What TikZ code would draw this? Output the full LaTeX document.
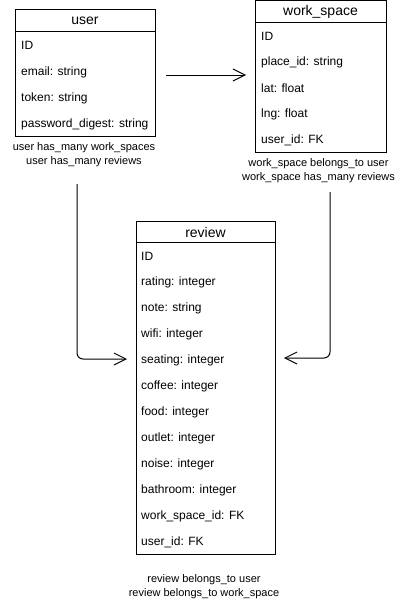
\documentclass[tikz,border=0pt]{standalone}
\usepackage{fontspec}
\setmainfont{Liberation Sans}
\usetikzlibrary{arrows.meta}
\begin{document}
\begin{tikzpicture}[x=1pt,y=-1pt,
  ent/.style={draw=black,line width=1pt,fill=white,inner sep=0pt},
  hdr/.style={font=\fontsize{14}{16}\selectfont,anchor=center,inner sep=0pt},
  fld/.style={font=\fontsize{12}{14}\selectfont,anchor=west,inner sep=0pt},
  capt/.style={font=\fontsize{11}{14}\selectfont,align=center,inner sep=0pt},
  conn/.style={line width=1pt,rounded corners=6pt,-{Straight Barb[length=12pt,width=12pt,line width=1pt]}}]
\useasboundingbox (0,0) rectangle (416,602);
% user
\draw[ent] (15,10) rectangle (155,136);
\draw[line width=1pt] (15,32) -- (155,32);
\node[hdr] (ut) at (85,21) {user};
\node[fld] (u1) at (21,45) {ID};
\node[fld] (u2) at (21,72) {email: string};
\node[fld] (u3) at (21,98) {token: string};
\node[fld] (u4) at (21,124) {password\_digest: string};
\node[capt] (uc) at (84,155) {user has\_many work\_spaces\\user has\_many reviews};
% work_space
\draw[ent] (255,1) rectangle (386,152);
\draw[line width=1pt] (255,23) -- (386,23);
\node[hdr] (wt) at (320.5,12) {work\_space};
\node[fld] (w1) at (261,36) {ID};
\node[fld] (w2) at (261,62) {place\_id: string};
\node[fld] (w3) at (261,88) {lat: float};
\node[fld] (w4) at (261,114) {lng: float};
\node[fld] (w5) at (261,140) {user\_id: FK};
\node[capt] (wc) at (318.5,171) {work\_space belongs\_to user\\work\_space has\_many reviews};
% review
\draw[ent] (136,221) rectangle (275,554);
\draw[line width=1pt] (136,242) -- (275,242);
\node[hdr] (rt) at (205.5,232) {review};
\node[fld] (r1) at (141,256) {ID};
\node[fld] (r2) at (141,282) {rating: integer};
\node[fld] (r3) at (141,308) {note: string};
\node[fld] (r4) at (141,334) {wifi: integer};
\node[fld] (r5) at (141,360) {seating: integer};
\node[fld] (r6) at (141,386) {coffee: integer};
\node[fld] (r7) at (141,412) {food: integer};
\node[fld] (r8) at (141,438) {outlet: integer};
\node[fld] (r9) at (141,464) {noise: integer};
\node[fld] (r10) at (141,490) {bathroom: integer};
\node[fld] (r11) at (141,516) {work\_space\_id: FK};
\node[fld] (r12) at (141,542) {user\_id: FK};
\node[capt] (rc) at (204,587) {review belongs\_to user\\review belongs\_to work\_space};
% connectors
\coordinate (a1) at (166,75);
\coordinate (a2) at (246,75);
\draw[conn] (a1) -- (a2);
\coordinate (l1) at (77,184);
\coordinate (l2) at (127,359);
\draw[conn] (l1) |- (l2);
\coordinate (q1) at (330,192);
\coordinate (q2) at (284,358);
\draw[conn] (q1) |- (q2);
\end{tikzpicture}
\end{document}
